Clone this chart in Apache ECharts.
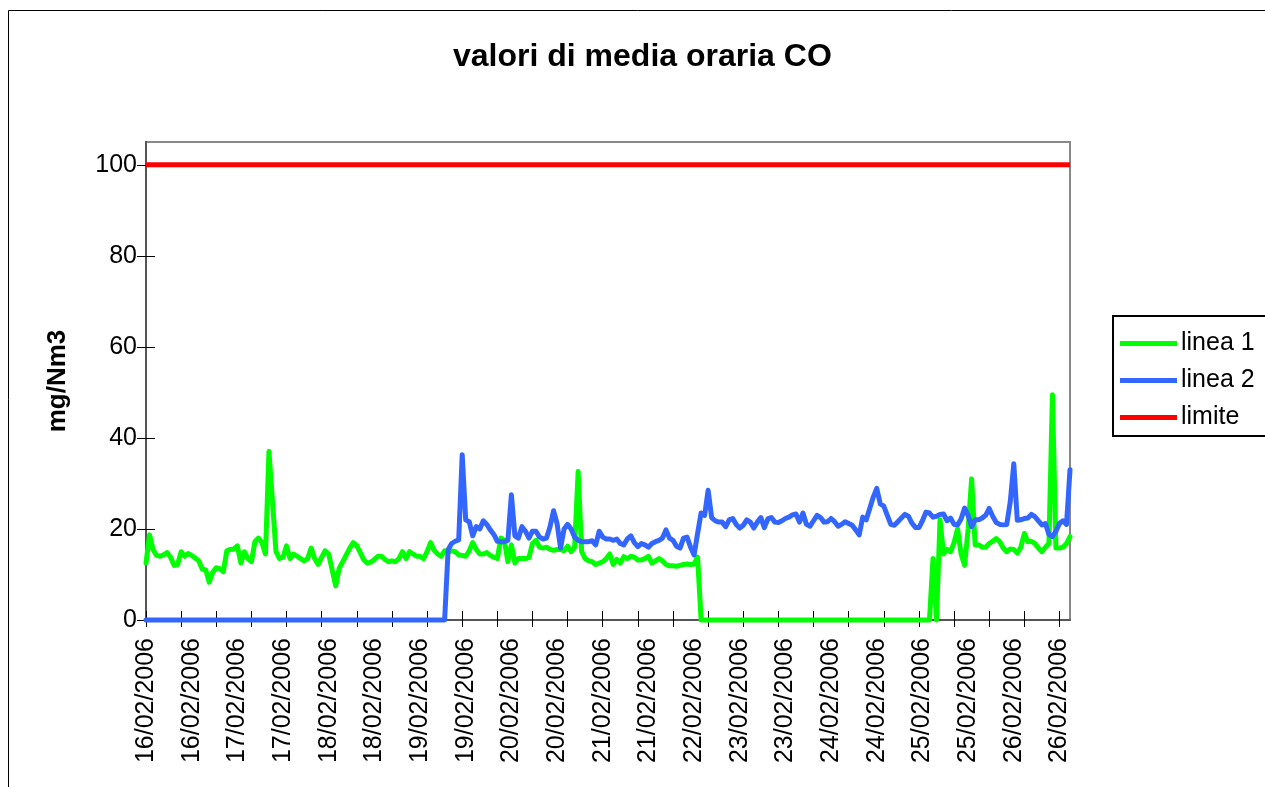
<!DOCTYPE html>
<html>
<head>
<meta charset="utf-8">
<script src="https://cdn.jsdelivr.net/npm/echarts@6/dist/echarts.min.js"></script>
<style>
  html, body { margin: 0; padding: 0; background: #fff; }
  #chart { width: 1265px; height: 787px; }
</style>
</head>
<body>
<div id="chart"></div>
<script>
// giorni di misura (valori orari, 24 per giorno)
const days = ['16/02/2006', '17/02/2006', '18/02/2006', '19/02/2006', '20/02/2006', '21/02/2006',
              '22/02/2006', '23/02/2006', '24/02/2006', '25/02/2006', '26/02/2006']
const hours = ['00', '01', '02', '03', '04', '05', '06', '07', '08', '09', '10', '11',
               '12', '13', '14', '15', '16', '17', '18', '19', '20', '21', '22', '23']

const yTicks = [0, 20, 40, 60, 80, 100]
const limitValue = 100

const linea1 = [
  12.5, 18.7, 15.5, 14.2, 14, 14.3, 14.8, 13.8, 12, 12.2,
  15, 14, 14.6, 14.2, 13.6, 13, 11.2, 11, 8.3, 10.5,
  11.5, 11.3, 10.6, 15.2, 15.5, 15.6, 16.3, 12.5, 15, 13.5,
  12.8, 17.2, 18, 17, 14.5, 37, 26, 15, 13.5, 13.8,
  16.3, 13.5, 14.5, 14, 13.5, 13, 13.5, 15.8, 13.5, 12.2,
  13.8, 15.2, 14.5, 11, 7.5, 11.4, 12.8, 14.3, 15.8, 17,
  16.3, 14.8, 13.2, 12.5, 12.7, 13.3, 14, 14, 13.3, 12.8,
  13, 12.8, 13.5, 15, 13.5, 15, 14.5, 14, 14, 13.5,
  15, 17, 15.3, 14.5, 14, 15.2, 15, 15.2, 15, 14.3,
  14.2, 14, 15.2, 17, 15.5, 14.5, 14.5, 14.8, 14.2, 13.8,
  13.5, 18, 17.5, 12.8, 16.5, 12.5, 13.5, 13.5, 13.5, 13.7,
  16.8, 17.5, 16, 15.8, 16, 15.5, 15.3, 15.5, 15.5, 15.2,
  16.2, 15, 16, 32.6, 15, 13.5, 13, 12.8, 12.2, 12.5,
  12.8, 13.5, 14.5, 12.2, 13.3, 12.5, 13.9, 13.5, 14, 13.8,
  13.2, 13.2, 13.5, 14, 12.5, 13, 13.5, 13, 12.2, 11.9,
  11.9, 11.8, 12, 12.2, 12.3, 12.2, 12.3, 13.8, 0, 0,
  0, 0, 0, 0, 0, 0, 0, 0, 0, 0,
  0, 0, 0, 0, 0, 0, 0, 0, 0, 0,
  0, 0, 0, 0, 0, 0, 0, 0, 0, 0,
  0, 0, 0, 0, 0, 0, 0, 0, 0, 0,
  0, 0, 0, 0, 0, 0, 0, 0, 0, 0,
  0, 0, 0, 0, 0, 0, 0, 0, 0, 0,
  0, 0, 0, 0, 13.5, 0, 22, 14.5, 15.5, 15,
  17, 20, 14.5, 12, 20, 31, 16.5, 16.5, 16, 16,
  16.8, 17.3, 17.9, 17.2, 15.8, 15, 15.6, 15.5, 14.7, 16,
  19, 17.2, 17.3, 16.8, 15.8, 15, 16, 16.8, 49.5, 15.8,
  15.8, 16, 16.8, 18.3
]

const linea2 = [
  0, 0, 0, 0, 0, 0, 0, 0, 0, 0,
  0, 0, 0, 0, 0, 0, 0, 0, 0, 0,
  0, 0, 0, 0, 0, 0, 0, 0, 0, 0,
  0, 0, 0, 0, 0, 0, 0, 0, 0, 0,
  0, 0, 0, 0, 0, 0, 0, 0, 0, 0,
  0, 0, 0, 0, 0, 0, 0, 0, 0, 0,
  0, 0, 0, 0, 0, 0, 0, 0, 0, 0,
  0, 0, 0, 0, 0, 0, 0, 0, 0, 0,
  0, 0, 0, 0, 0, 0, 15.5, 16.8, 17.3, 17.6,
  36.3, 22, 21.6, 18.5, 20.5, 20, 21.8, 21, 19.8, 18.8,
  17.3, 17.2, 17.2, 17.5, 27.5, 18.5, 18, 20.5, 19.5, 18,
  19.5, 19.5, 18.2, 17.8, 18, 20.5, 24, 21.2, 15.8, 20,
  21, 20, 18.2, 17.5, 17.2, 17.2, 17.2, 17.4, 16.5, 19.5,
  18.2, 17.8, 17.8, 17.5, 17.8, 16.8, 16.5, 17.8, 18.5, 17,
  16.1, 16.8, 16.5, 16, 16.8, 17.2, 17.5, 18, 19.8, 18,
  17.5, 16.2, 15.8, 18, 18.2, 16, 14.3, 19, 23.5, 23,
  28.5, 22.5, 21.8, 21.5, 21.5, 20.5, 22, 22.3, 21, 20.2,
  20.8, 22, 21.5, 20.2, 21.5, 22.5, 20.3, 22.2, 22.5, 21.5,
  21.4, 21.8, 22.3, 22.6, 23.1, 23.3, 21.5, 23.5, 21, 20.6,
  21.8, 23, 22.5, 21.5, 21.6, 22.3, 21.6, 20.6, 21, 21.6,
  21.2, 20.8, 19.8, 18.7, 22.6, 22, 24.5, 27, 28.9, 25.5,
  25, 23, 21, 20.8, 21.6, 22.4, 23.2, 22.8, 21.3, 20.3,
  20.3, 21.8, 23.7, 23.5, 22.6, 22.8, 23.2, 23.3, 21.8, 22.4,
  21, 20.9, 22.2, 24.6, 23, 20.5, 22, 22, 22.4, 23,
  24.5, 22.8, 21.4, 21, 20.9, 21, 26, 34.3, 21.9, 22,
  22.3, 22.4, 23.2, 22.7, 21.8, 20.9, 21.2, 18.8, 18.3, 19.5,
  21.2, 21.8, 21, 33
]

const categories = days.flatMap(d => hours.map(h => d + ' ' + h + ':00'))
const limite = categories.map(() => limitValue)

const FONT = '"Liberation Sans", Arial, sans-serif'

const chart = echarts.init(document.getElementById('chart'))

const lineSeries = (name, data, color, cap) => ({
    name,
    type: 'line',
    data,
    symbol: 'none',
    clip: false,
    color,
    lineStyle: { width: 5, color, cap, join: 'round' }
})

chart.setOption({
    backgroundColor: '#fff',
    animation: false,
    title: {
        text: 'valori di media oraria CO',
        left: 448,
        top: 36,
        textStyle: {
            fontFamily: FONT,
            fontSize: 32,
            fontWeight: 'bold',
            color: '#000'
        }
    },
    legend: {
        orient: 'vertical',
        left: 1113,
        top: 316,
        padding: [15, 14, 6, 7],
        itemGap: 12,
        itemWidth: 57,
        itemHeight: 5,
        icon: 'rect',
        borderColor: '#000',
        borderWidth: 2,
        data: ['linea 1', 'linea 2', 'limite'],
        textStyle: {
            fontFamily: FONT,
            fontSize: 25,
            color: '#000',
            padding: [0, 0, 0, -1]
        }
    },
    grid: {
        left: 146,
        right: 195,
        top: 142,
        bottom: 167,
        show: true,
        borderColor: '#888',
        borderWidth: 2,
        containLabel: false
    },
    xAxis: [
        {
            type: 'category',
            data: categories,
            boundaryGap: false,
            axisLine: { lineStyle: { color: '#555', width: 2 } },
            axisTick: {
                interval: 9,
                length: 7,
                lineStyle: { color: '#000', width: 1 }
            },
            axisLabel: {
                interval: 12,
                rotate: 90,
                margin: 18,
                fontFamily: FONT,
                fontSize: 25,
                color: '#000',
                formatter: v => v.split(' ')[0]
            },
            splitLine: { show: false }
        },
        {
            // tacche interne (le tacche in Excel attraversano l'asse)
            type: 'category',
            data: categories,
            boundaryGap: false,
            position: 'bottom',
            axisLine: { show: false },
            axisTick: {
                inside: true,
                interval: 9,
                length: 9,
                lineStyle: { color: '#000', width: 1 }
            },
            axisLabel: { show: false },
            splitLine: { show: false }
        }
    ],
    yAxis: [
        {
            type: 'value',
            min: 0,
            max: 105,
            name: 'mg/Nm3',
            nameLocation: 'middle',
            nameRotate: 90,
            nameGap: 75,
            nameTextStyle: {
                fontFamily: FONT,
                fontSize: 26,
                fontWeight: 'bold',
                color: '#000'
            },
            axisLine: { show: true, lineStyle: { color: '#555', width: 2 } },
            axisTick: {
                show: true,
                length: 9,
                customValues: yTicks,
                lineStyle: { color: '#000', width: 1 }
            },
            axisLabel: {
                customValues: yTicks,
                margin: 9,
                fontFamily: FONT,
                fontSize: 25,
                color: '#000'
            },
            splitLine: { show: false }
        },
        {
            type: 'value',
            min: 0,
            max: 105,
            position: 'left',
            axisLine: { show: false },
            axisTick: {
                show: true,
                inside: true,
                length: 9,
                customValues: yTicks,
                lineStyle: { color: '#000', width: 1 }
            },
            axisLabel: { show: false },
            splitLine: { show: false }
        }
    ],
    series: [
        lineSeries('linea 1', linea1, '#00ff00', 'round'),
        lineSeries('linea 2', linea2, '#3366ff', 'round'),
        lineSeries('limite', limite, '#ff0000', 'butt')
    ],
    graphic: [
        {
            type: 'rect',
            shape: { x: 8.5, y: 10.5, width: 1400, height: 900 },
            style: { fill: null, stroke: '#000', lineWidth: 1 },
            silent: true,
            z: -1
        }
    ]
})

window.addEventListener('resize', () => {
    chart.resize()
})
</script>
</body>
</html>
